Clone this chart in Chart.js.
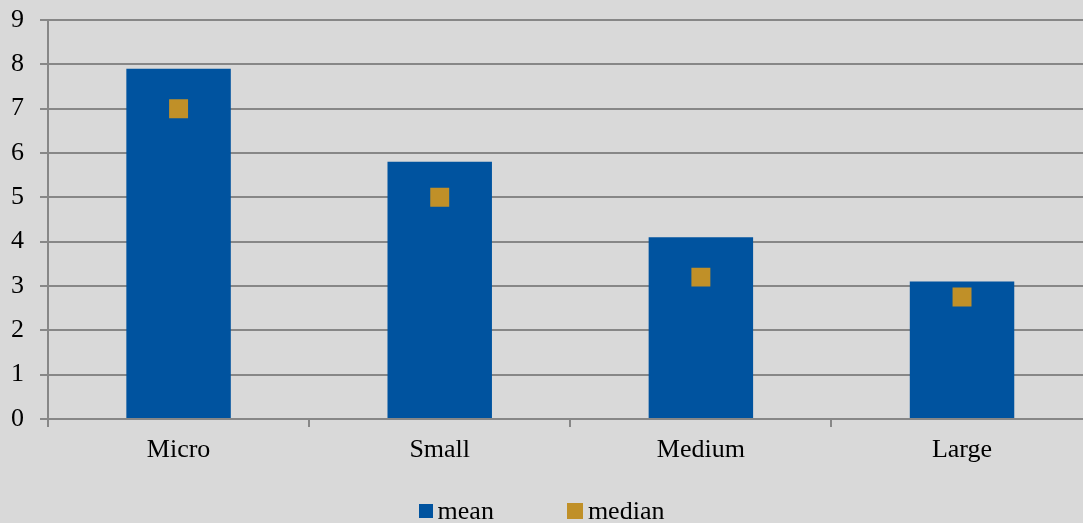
<!DOCTYPE html>
<html>
<head>
<meta charset="utf-8">
<script src="https://cdn.jsdelivr.net/npm/chart.js@4/dist/chart.umd.min.js"></script>
<style>
html, body { margin: 0; padding: 0; background: #d9d9d9; overflow: hidden; }
#wrap { position: relative; width: 1083px; height: 523px; overflow: hidden; }
canvas { display: block; }
#legend {
    position: absolute; left: 0; top: 498px; width: 1083px;
    display: flex; justify-content: center; gap: 73px;
    font-family: 'Liberation Serif', 'Times New Roman', serif; font-size: 26px;
    line-height: 26px; color: #000;
}
#legend .item { display: flex; align-items: center; }
#legend .box { display: inline-block; margin-right: 5px; }
</style>
</head>
<body>
<div id="wrap">
    <canvas id="chart" width="1106" height="523"></canvas>
    <div id="legend"></div>
</div>
<script>
// Chart data
const categories = ['Micro', 'Small', 'Medium', 'Large'];
const meanValues = [7.9, 5.8, 4.1, 3.1];
const medianValues = [7.0, 5.0, 3.2, 2.75];

const gridColor = '#878787';
const fontFamily = "'Liberation Serif', 'Times New Roman', serif";

const ctx = document.getElementById('chart').getContext('2d');
const chart = new Chart(ctx, {
    type: 'bar',
    data: {
        labels: categories,
        datasets: [{
            label: 'mean',
            data: meanValues,
            backgroundColor: '#00539f',
            borderWidth: 0,
            categoryPercentage: 1,
            barPercentage: 0.4,
            order: 2
        }, {
            type: 'line',
            label: 'median',
            data: medianValues,
            showLine: false,
            backgroundColor: '#c09028',
            borderColor: '#c09028',
            borderWidth: 0,
            pointStyle: 'rect',
            pointRadius: 13.4,
            pointHoverRadius: 13.4,
            order: 1
        }]
    },
    options: {
        responsive: false,
        animation: false,
        layout: {
            padding: { top: 20, left: 0, right: 2, bottom: 0 }
        },
        scales: {
            y: {
                min: 0,
                max: 9,
                afterFit: (scale) => {
                    scale.width = 48;
                    scale.paddingTop = 0;
                    scale.paddingBottom = 0;
                },
                ticks: {
                    stepSize: 1,
                    color: '#000',
                    padding: 16,
                    font: { family: fontFamily, size: 26 }
                },
                grid: {
                    color: gridColor,
                    lineWidth: 2,
                    tickLength: 8
                },
                border: { color: gridColor, width: 2 }
            },
            x: {
                offset: true,
                afterFit: (scale) => { scale.height = 104; },
                ticks: {
                    color: '#000',
                    padding: 8,
                    font: { family: fontFamily, size: 26 }
                },
                grid: {
                    offset: true,
                    drawOnChartArea: false,
                    color: gridColor,
                    lineWidth: 2,
                    tickLength: 8
                },
                border: { color: gridColor, width: 2 }
            }
        },
        plugins: {
            legend: { display: false },
            tooltip: { enabled: false }
        }
    }
});

// Legend built from the datasets (mean box is a bit smaller than the median one)
const boxSizes = [14, 16];
const legendEl = document.getElementById('legend');
chart.data.datasets.forEach((ds, i) => {
    const item = document.createElement('span');
    item.className = 'item';
    const box = document.createElement('span');
    box.className = 'box';
    box.style.width = boxSizes[i] + 'px';
    box.style.height = boxSizes[i] + 'px';
    box.style.background = ds.backgroundColor;
    item.appendChild(box);
    item.appendChild(document.createTextNode(ds.label));
    legendEl.appendChild(item);
});
</script>
</body>
</html>
